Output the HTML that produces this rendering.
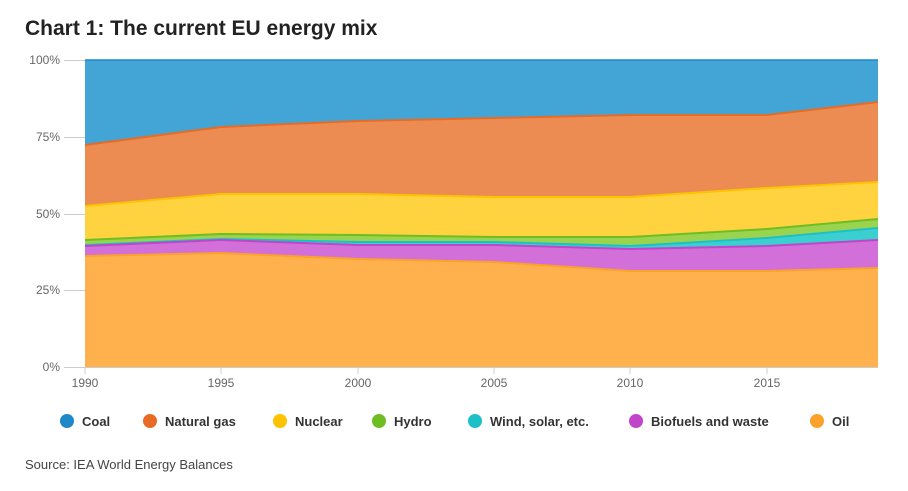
<!DOCTYPE html><html><head><style>body{margin:0;background:#fff;font-family:"Liberation Sans",sans-serif}</style></head><body>
<svg width="908" height="486" xmlns="http://www.w3.org/2000/svg" font-family="Liberation Sans, sans-serif">
<text x="25" y="35" font-size="21" font-weight="bold" fill="#222">Chart 1: The current EU energy mix</text>
<g font-size="12" fill="#666" text-anchor="end">
<text x="60" y="64">100%</text><text x="60" y="141">75%</text><text x="60" y="218">50%</text><text x="60" y="294">25%</text><text x="60" y="371">0%</text></g>
<g stroke="#ccc"><line x1="64" y1="60.5" x2="85" y2="60.5"/><line x1="64" y1="137.5" x2="85" y2="137.5"/><line x1="64" y1="214.5" x2="85" y2="214.5"/><line x1="64" y1="290.5" x2="85" y2="290.5"/><line x1="64" y1="367.5" x2="85" y2="367.5"/></g>
<polygon points="85,60 878,60 878,367 85,367" fill="#42a5d6"/>
<line x1="85" y1="60" x2="878" y2="60" stroke="#1e88c8" stroke-width="1.5"/>
<polygon points="85,145 221,127 358,121 494,118 630,115 767,115 878,102 878,367 85,367" fill="#ec8c52"/>
<polyline points="85,145 221,127 358,121 494,118 630,115 767,115 878,102" fill="none" stroke="#e86b25" stroke-width="2"/>
<polygon points="85,206 221,194 358,194 494,197 630,197 767,188 878,182 878,367 85,367" fill="#ffd23f"/>
<polyline points="85,206 221,194 358,194 494,197 630,197 767,188 878,182" fill="none" stroke="#fcc400" stroke-width="2"/>
<polygon points="85,240 221,234 358,235 494,237 630,237 767,229 878,219 878,367 85,367" fill="#9ad44f"/>
<polyline points="85,240 221,234 358,235 494,237 630,237 767,229 878,219" fill="none" stroke="#6ebd22" stroke-width="2"/>
<polygon points="85,245 221,239 358,242 494,242 630,246 767,238 878,228 878,367 85,367" fill="#3ccfd0"/>
<polyline points="85,245 221,239 358,242 494,242 630,246 767,238 878,228" fill="none" stroke="#1ec0c8" stroke-width="2"/>
<polygon points="85,246 221,240 358,245 494,245 630,249 767,246 878,240 878,367 85,367" fill="#d36fd9"/>
<polyline points="85,246 221,240 358,245 494,245 630,249 767,246 878,240" fill="none" stroke="#bf45c9" stroke-width="2"/>
<polygon points="85,256 221,253 358,259 494,262 630,271 767,271 878,268 878,367 85,367" fill="#ffb14d"/>
<polyline points="85,256 221,253 358,259 494,262 630,271 767,271 878,268" fill="none" stroke="#fca22a" stroke-width="2"/>
<line x1="85" y1="367.5" x2="878" y2="367.5" stroke="#ccc"/>
<g stroke="#ccc"><line x1="85" y1="367" x2="85" y2="374"/><line x1="221" y1="367" x2="221" y2="374"/><line x1="358" y1="367" x2="358" y2="374"/><line x1="494" y1="367" x2="494" y2="374"/><line x1="630" y1="367" x2="630" y2="374"/><line x1="767" y1="367" x2="767" y2="374"/></g>
<g font-size="12" fill="#666" text-anchor="middle">
<text x="85" y="387">1990</text><text x="221" y="387">1995</text><text x="358" y="387">2000</text><text x="494" y="387">2005</text><text x="630" y="387">2010</text><text x="767" y="387">2015</text></g>
<g font-size="13" font-weight="bold" fill="#333">
<circle cx="67" cy="421" r="7" fill="#1e88c8"/><text x="82" y="426">Coal</text>
<circle cx="150" cy="421" r="7" fill="#e86b25"/><text x="165" y="426">Natural gas</text>
<circle cx="280" cy="421" r="7" fill="#fcc400"/><text x="295" y="426">Nuclear</text>
<circle cx="379" cy="421" r="7" fill="#6ebd22"/><text x="394" y="426">Hydro</text>
<circle cx="475" cy="421" r="7" fill="#1ec0c8"/><text x="490" y="426">Wind, solar, etc.</text>
<circle cx="636" cy="421" r="7" fill="#bf45c9"/><text x="651" y="426">Biofuels and waste</text>
<circle cx="817" cy="421" r="7" fill="#fca22a"/><text x="832" y="426">Oil</text>
</g>
<text x="25" y="469" font-size="13" fill="#444">Source: IEA World Energy Balances</text>
</svg></body></html>
